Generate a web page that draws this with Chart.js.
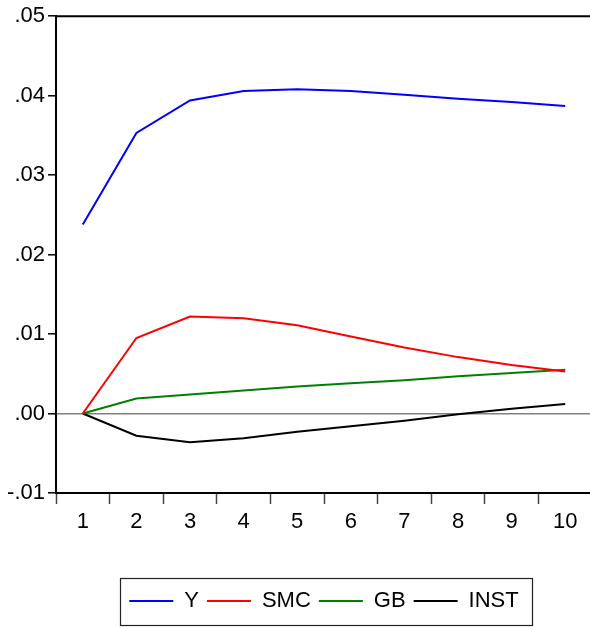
<!DOCTYPE html>
<html lang="en">
<head>
  <meta charset="UTF-8">
  <title>Impulse responses</title>
  <script src="https://cdn.jsdelivr.net/npm/chart.js"></script>
  <style>
    * { box-sizing: border-box; margin: 0; padding: 0; }
    html, body { width: 590px; height: 628px; overflow: hidden; background: #ffffff; }
    .wrap { width: 600px; height: 628px; }
    canvas { display: block; }
  </style>
</head>
<body>
  <div class="wrap">
    <canvas id="chart" width="600" height="628"></canvas>
  </div>
  <script>
    const periods = ['1', '2', '3', '4', '5', '6', '7', '8', '9', '10'];
    const yTickLabels = ['-.01', '.00', '.01', '.02', '.03', '.04', '.05'];
    const seriesY    = [0.0238, 0.0353, 0.0394, 0.0406, 0.0408, 0.0406, 0.0401, 0.0396, 0.0392, 0.0387];
    const seriesSMC  = [0, 0.0095, 0.0122, 0.0120, 0.0111, 0.0097, 0.0083, 0.0071, 0.0061, 0.0053];
    const seriesGB   = [0, 0.0019, 0.0024, 0.0029, 0.0034, 0.0038, 0.0042, 0.0047, 0.0051, 0.0055];
    const seriesINST = [0, -0.0028, -0.0036, -0.0031, -0.0023, -0.0016, -0.0009, -0.0001, 0.0006, 0.0012];

    const FONT = "'Liberation Sans', Arial, sans-serif";

    function line(label, data, color) {
      return {
        label, data,
        borderColor: color,
        backgroundColor: color,
        borderWidth: 2,
        pointRadius: 0,
        tension: 0,
        fill: false
      };
    }

    // top frame line + box around the legend
    const frame = {
      id: 'frame',
      afterDraw(chart) {
        const { ctx, chartArea } = chart;
        ctx.save();
        ctx.strokeStyle = '#000';
        ctx.lineWidth = 2;
        ctx.beginPath();
        ctx.moveTo(chartArea.left - 1, chartArea.top);
        ctx.lineTo(chartArea.right, chartArea.top);
        ctx.lineTo(chartArea.right, chartArea.bottom);
        ctx.stroke();
        const boxes = chart.legend.legendHitBoxes;
        if (boxes && boxes.length) {
          const first = boxes[0], last = boxes[boxes.length - 1];
          const l = first.left - 9;
          const r = last.left + last.width + 14;
          const t = first.top - 12;
          const b = first.top + first.height + 13;
          ctx.lineWidth = 1.2;
          ctx.strokeStyle = '#222';
          ctx.strokeRect(Math.round(l) + 0.5, Math.round(t) + 0.5, Math.round(r - l), Math.round(b - t));
        }
        ctx.restore();
      }
    };

    new Chart(document.getElementById('chart'), {
      type: 'line',
      data: {
        labels: periods,
        datasets: [
          line('Y', seriesY, '#0000ff'),
          line('SMC', seriesSMC, '#ff0000'),
          line('GB', seriesGB, '#008000'),
          line('INST', seriesINST, '#000000')
        ]
      },
      options: {
        responsive: false,
        animation: false,
        layout: { padding: { top: 15, right: 8, bottom: 6, left: 0 } },
        plugins: {
          tooltip: { enabled: false },
          legend: {
            position: 'bottom',
            fullSize: false,
            labels: {
              boxWidth: 44,
              boxHeight: 0,
              padding: 8,
              color: '#000',
              font: { family: FONT, size: 22 }
            }
          }
        },
        scales: {
          x: {
            offset: true,
            afterFit(scale) { scale.height = 89; },
            grid: { offset: true, drawOnChartArea: false, tickLength: 11, tickColor: '#444', tickWidth: 1.5 },
            border: { color: '#000', width: 2 },
            ticks: { color: '#000', padding: 5, maxRotation: 0, font: { family: FONT, size: 22 } }
          },
          y: {
            min: -0.01,
            max: 0.05,
            afterFit(scale) { scale.width = 56; },
            afterBuildTicks(scale) {
              scale.ticks = yTickLabels.map((_, i) => ({ value: -0.01 + i * 0.01 }));
            },
            grid: {
              color: c => (c.tick && Math.abs(c.tick.value) < 1e-9 ? '#808080' : 'rgba(0,0,0,0)'),
              lineWidth: 1.6,
              tickLength: 8,
              tickColor: '#000',
              tickWidth: 1.5
            },
            border: { color: '#000', width: 2 },
            ticks: {
              color: '#000',
              padding: 3,
              font: { family: FONT, size: 22 },
              callback: (v, i) => yTickLabels[i]
            }
          }
        }
      },
      plugins: [frame]
    });
  </script>
</body>
</html>
